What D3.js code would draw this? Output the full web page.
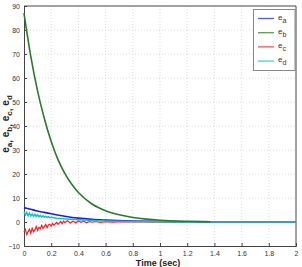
<!DOCTYPE html>
<html>
<head>
<meta charset="utf-8">
<script src="https://cdn.jsdelivr.net/npm/d3@7/dist/d3.min.js"></script>
<style>
  body { margin: 0; background: #fff; }
  svg { display: block; font-family: "Liberation Sans", Arial, sans-serif; }
</style>
</head>
<body>
<div id="chart"></div>
<script>
(function () {
	'use strict';

	// values
	var xTicks = [0, 0.2, 0.4, 0.6, 0.8, 1, 1.2, 1.4, 1.6, 1.8, 2];
	var yTicks = [-10, 0, 10, 20, 30, 40, 50, 60, 70, 80, 90];
	var seriesNames = ['a', 'b', 'c', 'd'];
	var seriesColors = ['#1f1fe0', '#2a7a2a', '#ff1a1a', '#12c2c2'];

	var eaTime = [0, 0.05, 0.1, 0.15, 0.2, 0.3, 0.4, 0.5, 0.6, 0.8, 1.0, 1.2, 1.4, 2];
	var eaVal  = [6.0, 5.3, 4.6, 4.0, 3.4, 2.4, 1.6, 1.1, 0.8, 0.4, 0.2, 0.1, 0, 0];

	var ebTime = [0, 0.05, 0.1, 0.15, 0.2, 0.25, 0.3, 0.35, 0.4, 0.5, 0.6, 0.7, 0.8, 0.9, 1.0, 1.2, 1.37];
	var ebVal  = [87, 69, 54.5, 43, 33.5, 26, 20.3, 15.8, 12.3, 7.5, 4.7, 3.0, 1.9, 1.2, 0.75, 0.3, 0.1];

	var ecTime = [0, 0.01, 0.02, 0.03, 0.04, 0.05, 0.06, 0.07, 0.08, 0.09, 0.1, 0.11, 0.12, 0.13, 0.14,
		0.15, 0.16, 0.17, 0.18, 0.19, 0.2, 0.21, 0.22, 0.23, 0.24, 0.25, 0.26, 0.27, 0.28, 0.29, 0.3,
		0.32, 0.34, 0.36, 0.38, 0.4, 0.42, 0.44, 0.46, 0.48, 0.5, 0.53, 0.56, 0.6, 0.65, 0.7, 0.8, 2];
	var ecVal  = [-4.2, -3.1, -5.2, -4.0, -3.0, -4.6, -2.6, -4.1, -3.3, -1.9, -3.5, -2.2, -2.8, -1.4, -2.6,
		-1.8, -1.0, -2.3, -1.2, -0.9, -1.7, -0.6, -1.4, -0.7, -0.2, -1.0, -0.4, 0.2, -0.7, 0.3, -0.2,
		0.5, -0.4, 0.3, -0.3, 0.4, -0.1, 0.3, -0.3, 0.2, -0.1, 0.2, -0.2, 0.1, -0.1, 0.1, 0, 0];

	var edTime = [0, 0.01, 0.02, 0.03, 0.04, 0.05, 0.06, 0.07, 0.08, 0.09, 0.1, 0.11, 0.12, 0.13, 0.14,
		0.15, 0.16, 0.17, 0.18, 0.19, 0.2, 0.22, 0.24, 0.26, 0.28, 0.3, 0.35, 0.4, 0.5, 0.6, 0.8, 1.0, 1.2, 1.4, 2];
	var edVal  = [4.3, 3.0, 4.0, 2.6, 3.7, 2.5, 3.4, 2.4, 3.2, 2.3, 3.0, 2.2, 2.8, 2.1, 2.6,
		2.0, 2.4, 1.9, 2.2, 1.8, 2.0, 1.8, 1.6, 1.5, 1.4, 1.3, 1.1, 0.9, 0.6, 0.4, 0.2, 0.1, 0.05, 0, 0];

	var width = 302, height = 267;
	var left = 24, right = 296, top = 6, bottom = 246;

	var svg = d3.select('#chart').append('svg')
		.attr('width', width)
		.attr('height', height);

	var x = d3.scaleLinear().domain([0, 2]).range([left, right]);
	var y = d3.scaleLinear().domain([-10, 90]).range([bottom, top]);

	// grid
	svg.append('g').selectAll('line.gx')
		.data(xTicks.slice(1, -1)).enter().append('line')
		.attr('x1', function (d) { return x(d); }).attr('x2', function (d) { return x(d); })
		.attr('y1', top).attr('y2', bottom)
		.attr('stroke', '#cfcfcf').attr('stroke-width', 0.8).attr('stroke-dasharray', '1,2');
	svg.append('g').selectAll('line.gy')
		.data(yTicks.slice(1, -1)).enter().append('line')
		.attr('y1', function (d) { return y(d); }).attr('y2', function (d) { return y(d); })
		.attr('x1', left).attr('x2', right)
		.attr('stroke', '#cfcfcf').attr('stroke-width', 0.8).attr('stroke-dasharray', '1,2');

	// axes
	var xAxis = svg.append('g').attr('transform', 'translate(0,' + bottom + ')')
		.call(d3.axisBottom(x).tickValues(xTicks).tickSize(-3).tickPadding(5)
			.tickFormat(function (d) { return d3.format('~g')(d); }));
	var yAxis = svg.append('g').attr('transform', 'translate(' + left + ',0)')
		.call(d3.axisLeft(y).tickValues(yTicks).tickSize(-3).tickPadding(4));
	[xAxis, yAxis].forEach(function (a) {
		a.select('.domain').attr('stroke', '#444');
		a.selectAll('.tick line').attr('stroke', '#444');
		a.selectAll('.tick text').attr('fill', '#333').style('font-size', '7px');
	});
	svg.append('line').attr('x1', left).attr('x2', right).attr('y1', top).attr('y2', top).attr('stroke', '#444');
	svg.append('line').attr('x1', right).attr('x2', right).attr('y1', top).attr('y2', bottom).attr('stroke', '#444');

	// lines
	var line = d3.line()
		.x(function (d) { return x(d[0]); })
		.y(function (d) { return y(d[1]); });
	var smooth = d3.line()
		.x(function (d) { return x(d[0]); })
		.y(function (d) { return y(d[1]); })
		.curve(d3.curveMonotoneX);

	function pairs(t, v) { return t.map(function (d, i) { return [d, v[i]]; }); }

	svg.append('path').datum(pairs(eaTime, eaVal)).attr('d', smooth)
		.attr('fill', 'none').attr('stroke', seriesColors[0]).attr('stroke-width', 1.6);
	svg.append('path').datum(pairs(ecTime, ecVal)).attr('d', line)
		.attr('fill', 'none').attr('stroke', seriesColors[2]).attr('stroke-width', 1.2);
	svg.append('path').datum(pairs(edTime, edVal)).attr('d', line)
		.attr('fill', 'none').attr('stroke', seriesColors[3]).attr('stroke-width', 1.5);
	svg.append('path').datum(pairs(ebTime, ebVal)).attr('d', smooth)
		.attr('fill', 'none').attr('stroke', seriesColors[1]).attr('stroke-width', 1.6);

	// legend
	var lg = svg.append('g');
	lg.append('rect').attr('x', 253.5).attr('y', 9.5).attr('width', 41.5).attr('height', 61)
		.attr('fill', '#fff').attr('stroke', '#888');
	seriesNames.forEach(function (n, i) {
		var yy = 18.5 + i * 14.2;
		lg.append('line').attr('x1', 258).attr('x2', 274).attr('y1', yy).attr('y2', yy)
			.attr('stroke', seriesColors[i]).attr('stroke-width', 1.3).attr('opacity', 0.75);
		var t = lg.append('text').attr('x', 278).attr('y', yy + 1).attr('fill', '#333')
			.style('font-size', '8px');
		t.append('tspan').text('e');
		t.append('tspan').attr('dy', 3).style('font-size', '7px').text(n);
	});

	// labels
	svg.append('text').attr('x', (left + right) / 2 - 2).attr('y', 266)
		.attr('text-anchor', 'middle').style('font-size', '9px').style('font-weight', 'bold')
		.attr('fill', '#222').text('Time (sec)');

	var yl = svg.append('text').attr('transform', 'translate(9,124) rotate(-90)')
		.attr('text-anchor', 'middle').style('font-size', '10px').style('font-weight', 'bold')
		.attr('fill', '#222');
	seriesNames.forEach(function (n, i) {
		yl.append('tspan').attr('dy', i === 0 ? 0 : -3).text('e');
		yl.append('tspan').attr('dy', 3).style('font-size', '8px').text(n);
		if (i < seriesNames.length - 1) yl.append('tspan').text(', ');
	});
})();
</script>
</body>
</html>
